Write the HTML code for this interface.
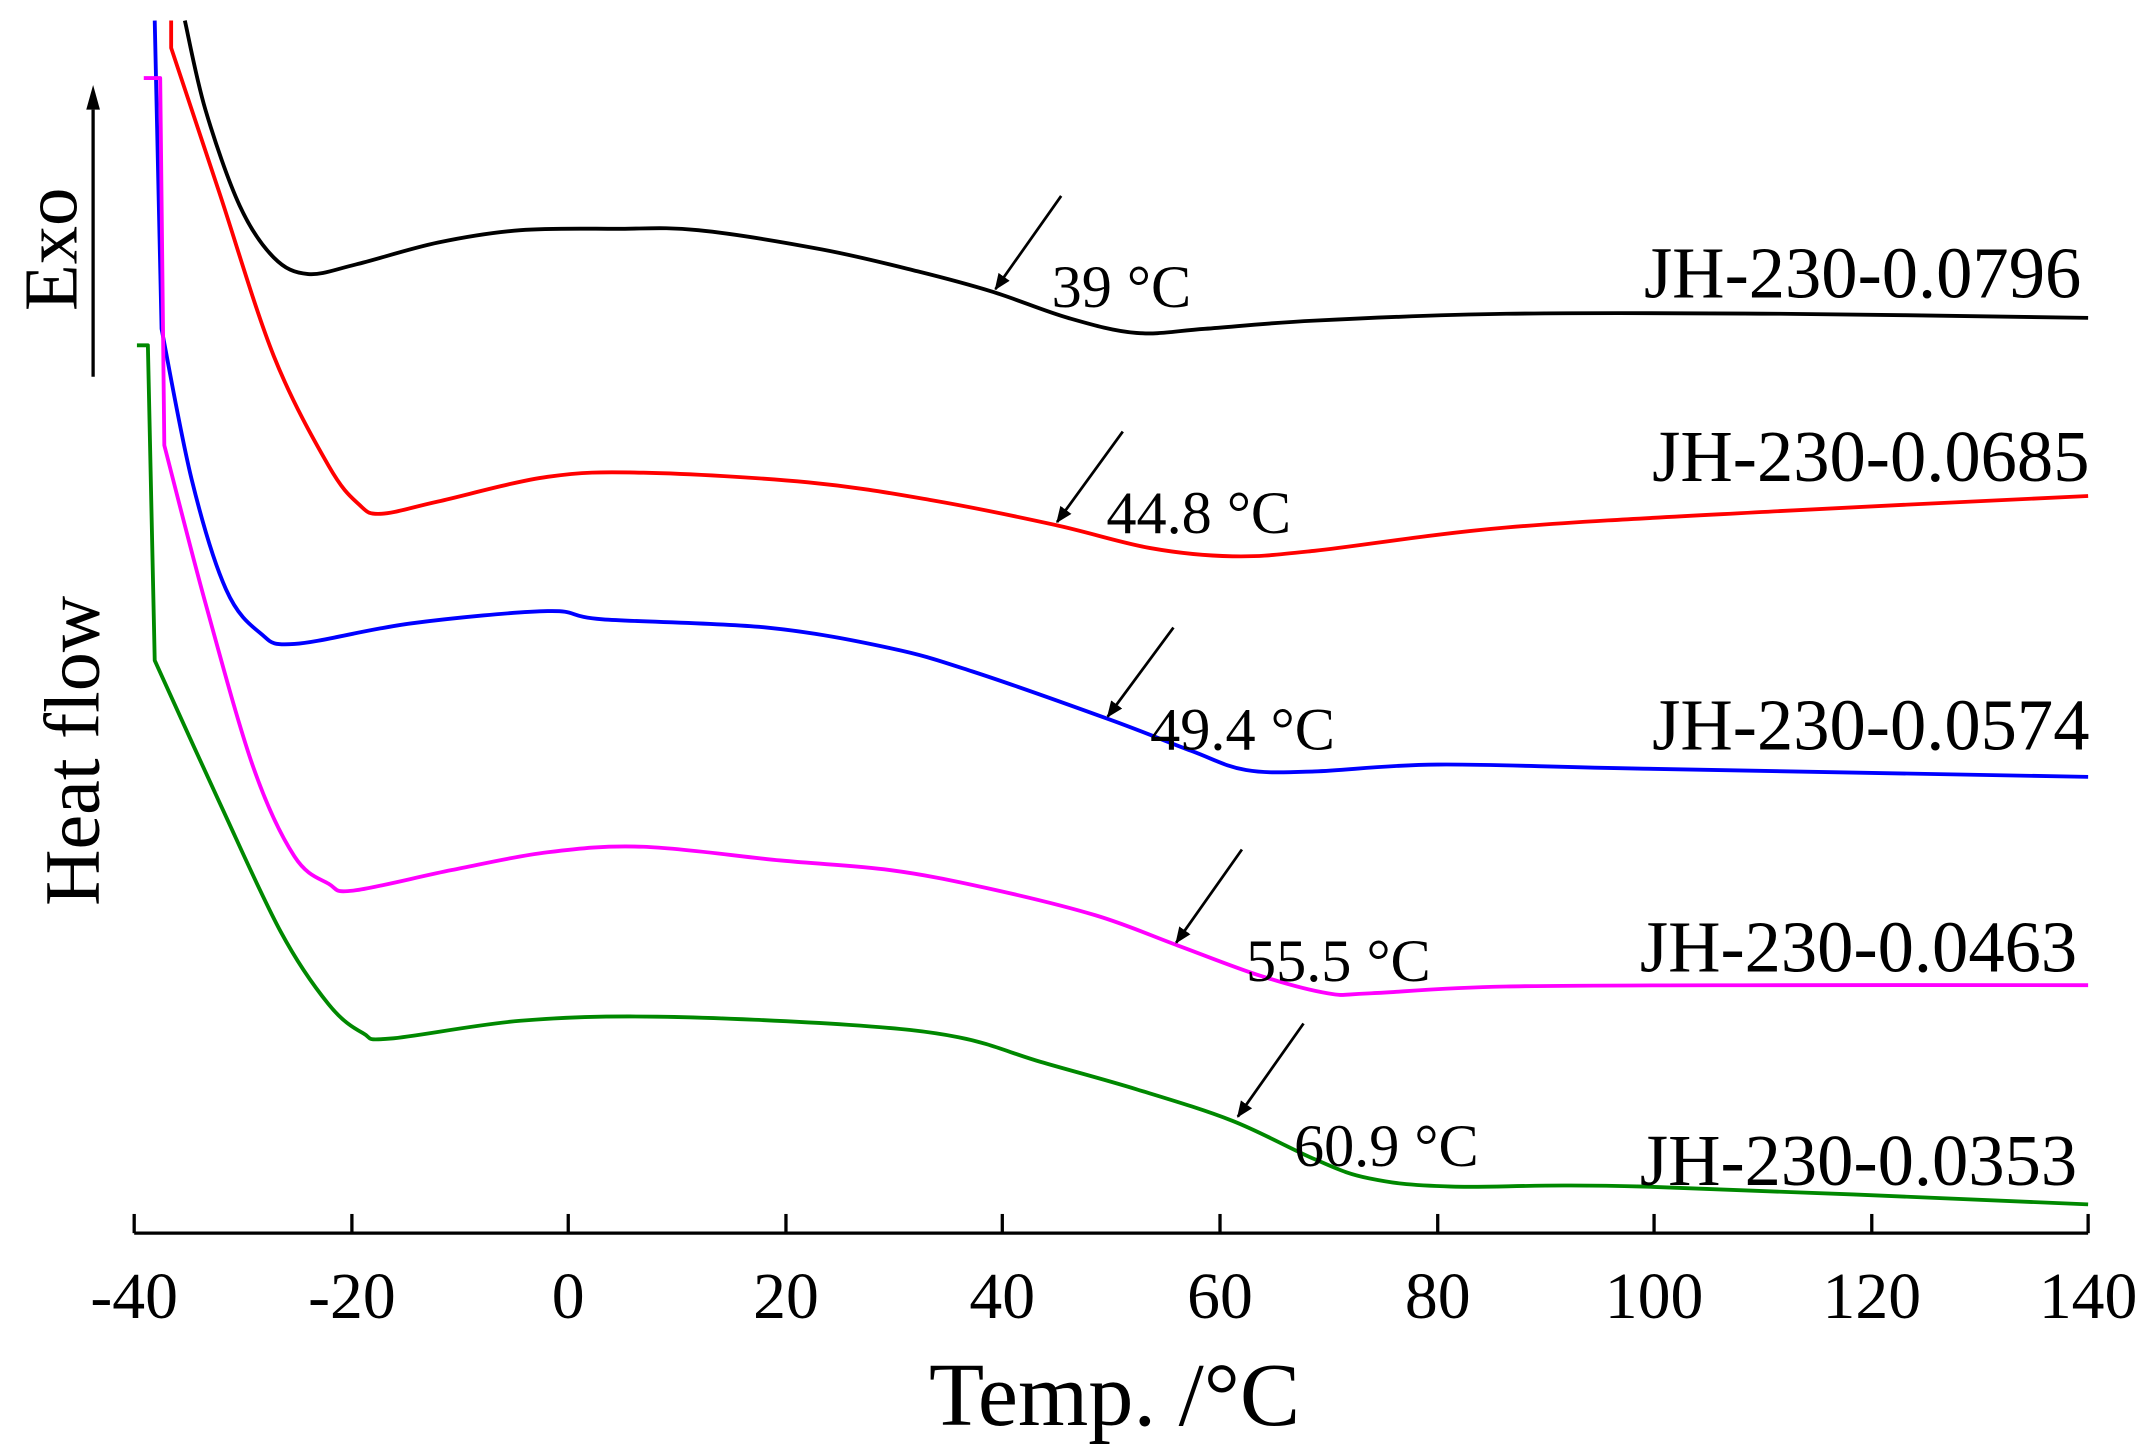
<!DOCTYPE html>
<html><head><meta charset="utf-8"><style>
html,body{margin:0;padding:0;background:#fff}
svg{display:block}
text{font-family:"Liberation Serif",serif;fill:#000}
</style></head><body>
<svg id="s" width="2147" height="1451" viewBox="0 0 1568 1059" preserveAspectRatio="none">
<defs><marker id="ah" markerWidth="12" markerHeight="12" refX="11" refY="5" orient="auto" markerUnits="userSpaceOnUse"><path d="M0,0 L12,5 L0,10 Z"/></marker></defs>
<g stroke="#000" stroke-width="2.4" fill="none">
<line x1="98" y1="900" x2="1525" y2="900"/>
<line x1="98" y1="886" x2="98" y2="900"/><line x1="257" y1="886" x2="257" y2="900"/><line x1="415" y1="886" x2="415" y2="900"/><line x1="574" y1="886" x2="574" y2="900"/><line x1="732" y1="886" x2="732" y2="900"/><line x1="891" y1="886" x2="891" y2="900"/><line x1="1050" y1="886" x2="1050" y2="900"/><line x1="1208" y1="886" x2="1208" y2="900"/><line x1="1367" y1="886" x2="1367" y2="900"/><line x1="1525" y1="886" x2="1525" y2="900"/>
<line x1="68" y1="275" x2="68" y2="80"/>
</g>
<path d="M68,62 L63,80 L73,80 Z" fill="#000"/>
<g font-size="48" text-anchor="middle">
<text x="98" y="962">-40</text><text x="257" y="962">-20</text><text x="415" y="962">0</text><text x="574" y="962">20</text><text x="732" y="962">40</text><text x="891" y="962">60</text><text x="1050" y="962">80</text><text x="1208" y="962">100</text><text x="1367" y="962">120</text><text x="1525" y="962">140</text>
</g>
<text x="814" y="1040" font-size="66" text-anchor="middle">Temp. /°C</text>
<text transform="translate(72,548) rotate(-90)" font-size="57" text-anchor="middle">Heat flow</text>
<text transform="translate(56,182) rotate(-90)" font-size="56" text-anchor="middle">Exo</text>
<g id="curves" fill="none" stroke-width="2.8" stroke-linejoin="round"></g>
<g stroke="#000" stroke-width="2" marker-end="url(#ah)">
<line x1="775" y1="143" x2="727" y2="211"/>
<line x1="820" y1="315" x2="772" y2="381"/>
<line x1="857" y1="458" x2="809" y2="523"/>
<line x1="907" y1="620" x2="859" y2="688"/>
<line x1="952" y1="747" x2="904" y2="815"/>
</g>
<g font-size="44">
<text x="768" y="224">39 °C</text>
<text x="808" y="389">44.8 °C</text>
<text x="840" y="547">49.4 °C</text>
<text x="910" y="716">55.5 °C</text>
<text x="945" y="851">60.9 °C</text>
</g>
<g font-size="53" text-anchor="end">
<text x="1520" y="217">JH-230-0.0796</text>
<text x="1526" y="351">JH-230-0.0685</text>
<text x="1526" y="547">JH-230-0.0574</text>
<text x="1517" y="709">JH-230-0.0463</text>
<text x="1517" y="865">JH-230-0.0353</text>
</g>
</svg>
<script>
function cr(p){var d="M"+p[0][0]+","+p[0][1];for(var i=0;i<p.length-1;i++){var a=p[i-1]||p[i],b=p[i],c=p[i+1],e=p[i+2]||c;
d+=" C"+(b[0]+(c[0]-a[0])/6)+","+(b[1]+(c[1]-a[1])/6)+" "+(c[0]-(e[0]-b[0])/6)+","+(c[1]-(e[1]-b[1])/6)+" "+c[0]+","+c[1];}return d;}
var S=[
["#000","",[[135,15],[150,80],[175,150],[200,188],[225,200],[260,193],[320,177],[380,168],[450,167],[510,168],[600,182],[670,198],[725,213],[780,232],[830,243],[880,240],[960,234],[1100,229],[1300,229],[1525,232]]],
["#f00","M125,15 L125,35",[[125,35],[160,140],[200,260],[240,340],[262,368],[278,375],[320,366],[400,348],[470,345],[590,352],[680,365],[770,383],[840,400],[900,406],[960,402],[1100,385],[1300,373],[1525,362]]],
["#00f","M113,15 L118,240",[[118,240],[140,350],[165,430],[190,462],[215,470],[300,455],[400,446],[440,452],[560,458],[650,473],[710,490],[810,525],[870,548],[910,562],[960,563],[1050,558],[1200,561],[1525,567]]],
["#f0f","M105,57 L117,57 L120,325",[[120,325],[150,440],[185,560],[215,625],[240,645],[258,650],[330,635],[400,622],[470,618],[570,628],[650,635],[720,648],[800,668],[860,690],[920,712],[970,725],[1000,725],[1100,720],[1300,719],[1525,719]]],
["#080","M100,252 L108,252 L113,482",[[113,482],[160,585],[205,680],[240,733],[265,754],[285,758],[380,745],[480,742],[620,748],[700,757],[760,775],[830,795],[900,818],[960,846],[1000,860],[1060,866],[1200,866],[1525,879]]]];
var g=document.getElementById("curves");
S.forEach(function(s){var p=document.createElementNS("http://www.w3.org/2000/svg","path");
var d=cr(s[2]);if(s[1])d=s[1]+" L"+d.slice(1);p.setAttribute("d",d);p.setAttribute("stroke",s[0]);g.appendChild(p);});
</script>
</body></html>
